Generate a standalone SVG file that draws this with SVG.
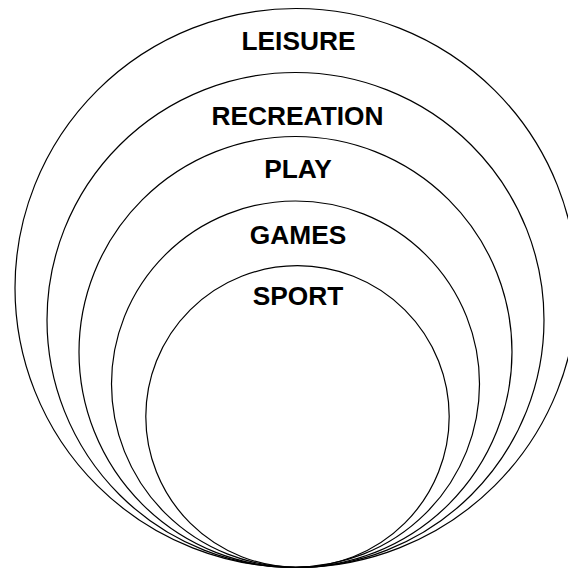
<svg xmlns="http://www.w3.org/2000/svg" width="568" height="568" viewBox="0 0 568 568">
<style>
.ring{fill:none;stroke:#000;stroke-width:1.2}
.lbl{font-family:"Liberation Sans",Arial,Helvetica,sans-serif;font-weight:bold;font-size:26.3px;fill:#000;text-anchor:middle}
</style>
<rect width="568" height="568" fill="#fff"/>
<g id="leisure">
<ellipse class="ring" cx="296" cy="288" rx="281" ry="279.5"/>
<text class="lbl" x="298.5" y="49.5">LEISURE</text>
</g>
<g id="recreation">
<ellipse class="ring" cx="295.5" cy="320" rx="248.5" ry="247.5"/>
<text class="lbl" x="297.5" y="124.5">RECREATION</text>
</g>
<g id="play">
<ellipse class="ring" cx="295.5" cy="352" rx="216.5" ry="215.5"/>
<text class="lbl" x="298" y="177.5">PLAY</text>
</g>
<g id="games">
<ellipse class="ring" cx="295.5" cy="384" rx="184" ry="183"/>
<text class="lbl" x="298" y="243.5">GAMES</text>
</g>
<g id="sport">
<ellipse class="ring" cx="297.5" cy="416.5" rx="151.7" ry="150.8"/>
<text class="lbl" x="298" y="305">SPORT</text>
</g>
<g id="connectors"/>
</svg>
